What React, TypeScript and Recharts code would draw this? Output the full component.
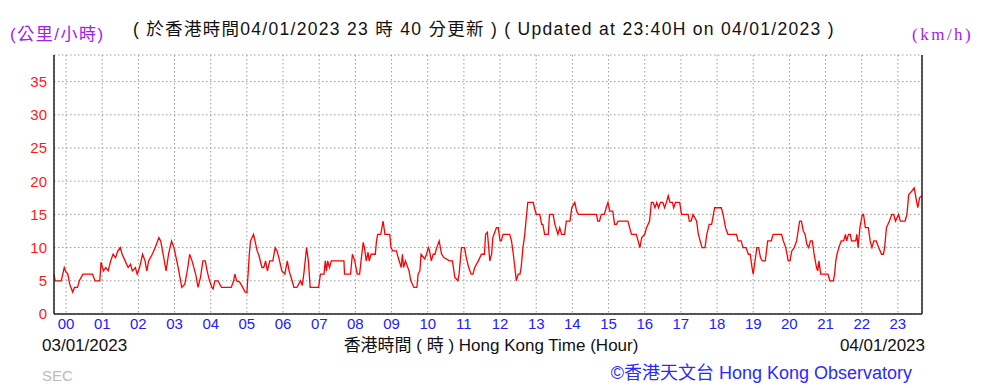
import { LineChart, Line, XAxis, YAxis, CartesianGrid } from 'recharts';

// minutes after 00:00 (start of chart is 23:40 of the previous hour block)
const TIME_MIN = [
  -20, -18, -8, -3, 0, 3, 6, 11, 14, 19, 22, 28, 44, 46, 48, 56, 58, 62, 66, 70,
  74, 78, 82, 86, 90, 93, 98, 103, 107, 110, 115, 118, 122, 127, 131, 134, 137, 143, 148, 154,
  157, 161, 166, 170, 175, 179, 186, 192, 197, 202, 205, 209, 215, 219, 223, 227, 231, 234, 238, 242,
  244, 247, 252, 255, 258, 274, 278, 280, 283, 288, 292, 297, 300, 304, 306, 311, 314, 317, 320, 325,
  328, 331, 334, 338, 343, 347, 350, 353, 358, 363, 367, 370, 375, 378, 383, 386, 389, 392, 395, 399,
  402, 405, 419, 422, 428, 430, 432, 434, 437, 440, 461, 462, 472, 475, 479, 483, 487, 490, 493, 495,
  498, 501, 503, 506, 513, 515, 517, 522, 526, 529, 537, 539, 542, 548, 551, 556, 558, 560, 563, 569,
  572, 577, 582, 584, 587, 589, 595, 598, 601, 603, 606, 609, 612, 615, 619, 623, 627, 636, 641, 645,
  650, 652, 654, 656, 661, 664, 668, 672, 675, 678, 684, 689, 694, 696, 699, 703, 706, 708, 714, 717,
  720, 722, 725, 736, 739, 742, 747, 750, 753, 755, 758, 761, 763, 766, 775, 777, 780, 786, 789, 791,
  794, 800, 802, 808, 811, 816, 819, 822, 827, 830, 836, 839, 844, 847, 850, 880, 882, 885, 888, 893,
  896, 899, 902, 907, 910, 913, 916, 932, 935, 938, 946, 949, 952, 955, 960, 963, 968, 971, 974, 977,
  980, 983, 986, 990, 993, 996, 999, 1002, 1006, 1008, 1011, 1018, 1021, 1032, 1034, 1037, 1040, 1046, 1049, 1055,
  1060, 1063, 1067, 1071, 1074, 1076, 1087, 1090, 1094, 1098, 1112, 1115, 1120, 1123, 1128, 1132, 1135, 1138, 1140, 1143,
  1146, 1149, 1152, 1155, 1160, 1164, 1170, 1173, 1187, 1190, 1194, 1198, 1201, 1204, 1208, 1212, 1217, 1220, 1223, 1226,
  1229, 1232, 1235, 1238, 1241, 1245, 1247, 1249, 1252, 1264, 1267, 1273, 1275, 1277, 1279, 1282, 1286, 1290, 1293, 1295,
  1298, 1301, 1303, 1310, 1312, 1314, 1317, 1321, 1323, 1326, 1331, 1334, 1337, 1340, 1344, 1348, 1353, 1356, 1358, 1361,
  1366, 1370, 1373, 1376, 1381, 1384, 1392, 1395, 1398, 1403, 1407, 1410, 1413, 1416, 1420,
];

// wind speed, km/h
const SPEED = [
  6, 5, 5, 7, 6.3, 6, 4.5, 3.3, 4, 4, 5, 6, 6, 5.5, 5, 5, 7.8, 6.5, 7, 6.5,
  8, 9, 8.5, 9.5, 10, 9, 8, 7, 7.5, 6.5, 7, 6, 7, 9, 8, 6.5, 8, 9, 10, 11.5,
  11, 9, 6.5, 9, 11, 10, 7, 4, 4.5, 7, 9, 8, 6, 4, 5.5, 8, 8, 6.5, 5, 4,
  3.8, 5, 5, 4.5, 4, 4, 5, 6, 5, 4.8, 4.2, 3.3, 3.2, 9, 11, 12, 10.8, 9.5, 8.8, 7,
  7, 8, 6.5, 8, 8, 10, 9.5, 8.5, 6.5, 6, 8, 6.5, 5, 4, 4, 4.5, 5, 4.3, 6.5, 10,
  8, 4, 4, 6, 6, 8, 6.5, 8, 7, 8, 8, 6, 6, 9, 8, 6, 6, 8.5, 10.8, 10,
  8, 9.3, 8, 9, 9, 11, 12, 12, 14, 12, 12, 10, 9.5, 9.5, 8.5, 7, 9, 7, 8, 6.5,
  5, 4, 4, 6, 6.5, 9, 8.3, 9, 10, 9.5, 8, 9, 9, 10, 11, 9, 8.5, 8, 8, 5.5,
  5, 6, 8, 10, 10, 8.5, 7, 6, 6, 7, 8, 9, 9, 12, 12.3, 8, 9, 11.5, 13, 13,
  11, 11, 12, 12, 11, 9, 5, 6, 6, 7, 10, 12, 14, 16.8, 16.8, 16, 15, 15, 13.5, 13.5,
  12, 12, 15, 15, 13.5, 12, 13, 12, 12, 14, 14, 16, 16.8, 15.5, 15, 15, 14, 14, 15, 15,
  16, 16.8, 15.5, 15.5, 13.5, 13.5, 14, 14, 13, 12, 12, 11, 10, 11.5, 12, 13, 14, 16.8, 16.8, 16,
  16.8, 16, 16.8, 16.8, 16, 16.8, 17.8, 16.8, 16.8, 16, 16.8, 16.8, 15, 15, 14, 14, 15, 14, 12, 10,
  10, 12, 13.5, 13.5, 15, 16, 16, 15, 13, 12, 12, 11, 11, 10, 10, 9, 9, 7, 6, 8,
  10, 10, 8.5, 8, 8, 11, 11, 12, 12, 11, 10, 8, 8, 9.5, 10, 11, 14, 14, 12.5, 12,
  10.5, 10, 11, 11, 9, 7, 6.5, 8, 6, 6, 5, 5, 6, 8, 9, 10, 11, 11, 12, 11,
  12, 12, 11, 11, 12, 10, 13, 15, 15, 13, 13, 11, 10, 11, 11, 10, 9, 9, 10, 13,
  14, 15, 15, 14, 15, 14, 14, 15, 18, 18.5, 19, 17.5, 16, 17.5, 17.8,
];

const HOUR_TICKS = Array.from({ length: 24 }, (_, h) => h * 60);
const Y_TICKS = [0, 5, 10, 15, 20, 25, 30, 35];

const data = TIME_MIN.map((t, i) => ({ t, v: SPEED[i] }));

const FONT = "'Liberation Sans', Arial, 'Noto Sans CJK TC', sans-serif";

const txt = (extra: React.CSSProperties): React.CSSProperties => ({
  position: 'absolute',
  whiteSpace: 'nowrap',
  fontFamily: FONT,
  lineHeight: 1,
  ...extra,
});

export default function App() {
  return (
    <div style={{ position: 'absolute', left: 0, top: 0, width: 983, height: 388, background: '#fff', overflow: 'hidden' }}>
      <LineChart width={983} height={388} data={data} margin={{ top: 55, right: 21, bottom: 44, left: 14 }}>
        <CartesianGrid yAxisId="l" stroke="#9a9a9a" strokeDasharray="1.5 2.5" />
        <XAxis
          type="number"
          dataKey="t"
          domain={[-20, 1420]}
          ticks={HOUR_TICKS}
          tickFormatter={(m: number) => String(m / 60).padStart(2, '0')}
          interval={0}
          height={30}
          axisLine={{ stroke: '#222', strokeWidth: 1.5 }}
          tickLine={false}
          tickSize={2}
          tickMargin={2}
          tick={{ fill: '#2020ff', fontSize: 15, fontFamily: FONT }}
        />
        <YAxis
          yAxisId="l"
          domain={[0, 39]}
          ticks={Y_TICKS}
          interval={0}
          width={40}
          axisLine={{ stroke: '#222', strokeWidth: 1.5 }}
          tickLine={false}
          tickSize={5}
          tickMargin={2}
          tick={{ fill: '#ff1a1a', fontSize: 15, fontFamily: FONT }}
        />
        <YAxis
          yAxisId="r"
          orientation="right"
          domain={[0, 39]}
          ticks={Y_TICKS}
          interval={0}
          width={40}
          axisLine={{ stroke: '#222', strokeWidth: 1.5 }}
          tickLine={false}
          tickSize={2}
          tickMargin={1}
          tick={{ fill: '#ff1a1a', fontSize: 15, fontFamily: FONT }}
        />
        <Line
          yAxisId="l"
          type="linear"
          dataKey="v"
          stroke="#ff0000"
          strokeWidth={1.3}
          dot={false}
          isAnimationActive={false}
        />
      </LineChart>

      <div style={txt({ left: 10, top: 26, fontSize: 17, letterSpacing: 1.5, color: '#a020f0' })}>(公里/小時)</div>
      <div style={txt({ left: 133, top: 21, fontSize: 17.5, letterSpacing: 1.3, color: '#111' })}>
        ( 於香港時間04/01/2023 23 時 40 分更新 ) ( Updated at 23:40H on 04/01/2023 )
      </div>
      <div style={txt({ left: 912, top: 26, fontSize: 17, letterSpacing: 2.5, color: '#a020f0', fontFamily: "'Liberation Serif', serif" })}>(km/h)</div>

      <div style={txt({ left: 42, top: 337, fontSize: 17, color: '#111' })}>03/01/2023</div>
      <div style={txt({ left: 491, top: 337, fontSize: 17, color: '#111', transform: 'translateX(-50%)' })}>
        香港時間 ( 時 ) Hong Kong Time (Hour)
      </div>
      <div style={txt({ right: 58, top: 337, fontSize: 17, color: '#111' })}>04/01/2023</div>

      <div style={txt({ left: 42, top: 368, fontSize: 15, color: '#bbbbbb' })}>SEC</div>
      <div style={txt({ right: 71, top: 364, fontSize: 18, color: '#2a2aff' })}>©香港天文台 Hong Kong Observatory</div>
    </div>
  );
}
